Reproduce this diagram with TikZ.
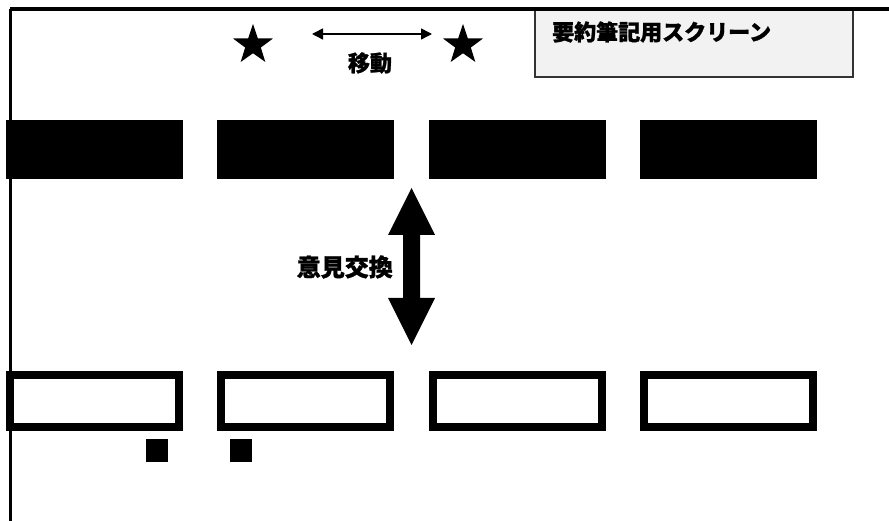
\documentclass[tikz,border=0pt]{standalone}
\usepackage{fontspec}
\newfontfamily\jp[BoldFeatures={FakeBold=1.2}]{Noto Sans CJK JP}
\usetikzlibrary{arrows.meta,shapes.geometric}
\tikzset{
  seatblack/.style={fill=black, draw=none, minimum width=177pt, minimum height=59pt, inner sep=0pt, outer sep=0pt, anchor=north west},
  seatwhite/.style={draw=black, line width=8pt, fill=white, minimum width=169pt, minimum height=52pt, inner sep=0pt, outer sep=0pt, anchor=north west},
  smallsq/.style={fill=black, draw=none, minimum width=22pt, minimum height=23pt, inner sep=0pt, outer sep=0pt, anchor=north west},
  bigstar/.style={star, star points=5, star point ratio=2.55, fill=black, draw=none, minimum size=42pt, inner sep=0pt},
  lbl/.style={font=\jp\bfseries, inner sep=0pt, text=black},
}
\begin{document}
\begin{tikzpicture}[x=1pt, y=-1pt]
\useasboundingbox (0,0) rectangle (889,521);
\fill[white] (0,0) rectangle (889,521);
% screen box
\node[draw=black!80, line width=2.5pt, fill=black!5, minimum width=318pt, minimum height=68pt, inner sep=0pt, outer sep=0pt, anchor=north west] (screen) at (535,9) {};
\node[lbl, font=\jp\bfseries\fontsize{22}{22}\selectfont, anchor=west] (screentxt) at (552,32) {要約筆記用スクリーン};
% frame lines
\coordinate (tl) at (10,9);
\coordinate (tr) at (889,9);
\coordinate (bl) at (10,521);
\draw[line width=3.5pt] (tr) -- (tl);
\draw[line width=3pt] (tl) -- (bl);
% stars and move arrow
\node[bigstar] (star1) at (253,45) {};
\node[bigstar] (star2) at (463,45) {};
\coordinate (mvL) at (312,34);
\coordinate (mvR) at (432,34);
\draw[line width=1.5pt, {Triangle[length=11pt,width=11pt]}-{Triangle[length=11pt,width=11pt]}] (mvL) -- (mvR);
\node[lbl, font=\jp\bfseries\fontsize{22}{22}\selectfont] (move) at (370,63) {移動};
% top row (black)
\node[seatblack] (t1) at (6,120) {};
\node[seatblack] (t2) at (217,120) {};
\node[seatblack] (t3) at (429,120) {};
\node[seatblack] (t4) at (640,120) {};
% bottom row (outlined)
\node[seatwhite] (b1) at (10,375) {};
\node[seatwhite] (b2) at (221,375) {};
\node[seatwhite] (b3) at (433,375) {};
\node[seatwhite] (b4) at (644,375) {};
% small squares
\node[smallsq] (s1) at (146,439) {};
\node[smallsq] (s2) at (230,439) {};
% big double arrow
\fill[black] (403,235) -- (388,235) -- (411.5,188) -- (435,235) -- (420,235)
  -- (420,298) -- (435,298) -- (411.5,345) -- (388,298) -- (403,298) -- cycle;
\node[lbl, font=\jp\bfseries\fontsize{24}{24}\selectfont, anchor=east] (talk) at (393,267) {意見交換};
\end{tikzpicture}
\end{document}
